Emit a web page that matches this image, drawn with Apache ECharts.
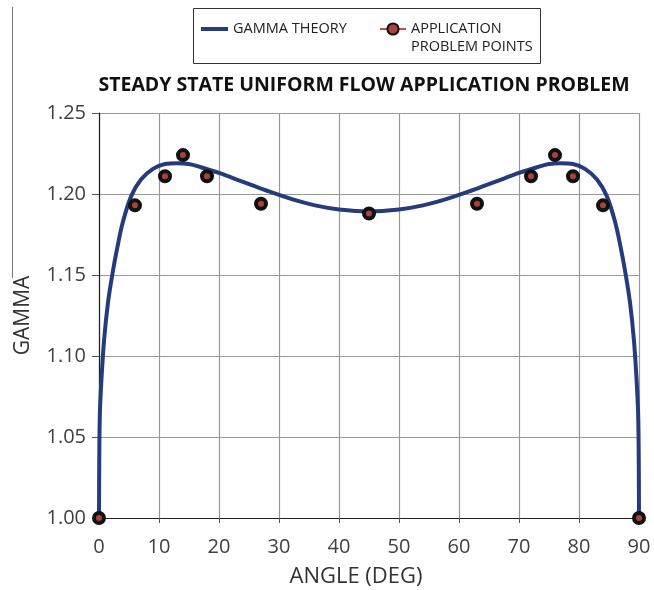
<!DOCTYPE html>
<html>
<head>
<meta charset="utf-8">
<script src="https://cdn.jsdelivr.net/npm/echarts@6/dist/echarts.min.js"></script>
<style>html,body{margin:0;padding:0;background:#fff}#c{width:654px;height:590px}</style>
</head>
<body>
<div id="c"></div>
<script>
const titleText = 'STEADY STATE UNIFORM FLOW APPLICATION PROBLEM';
const xName = 'ANGLE (DEG)';
const yName = 'GAMMA';
const theoryName = 'GAMMA THEORY';
const pointsName = 'APPLICATION PROBLEM POINTS';
const pointsLegendLines = ['APPLICATION', 'PROBLEM POINTS'];

// Theory curve samples
const theoryAngle = [0, 0.05, 0.15, 0.4, 0.85, 1.5, 2.3, 3.0, 4.0, 5.4, 7, 9, 11, 13, 15, 17, 20, 24, 28, 32, 36, 40, 45,
  50, 54, 58, 62, 66, 70, 73, 75, 77, 79, 81, 83, 84.6, 86, 87, 87.7, 88.5, 89.15, 89.6, 89.85, 89.95, 90];
const theoryGamma = [1.000, 1.040, 1.065, 1.085, 1.110, 1.133, 1.152, 1.166, 1.183, 1.199, 1.209, 1.2155, 1.2185, 1.219, 1.2185, 1.2165, 1.213, 1.2075, 1.202, 1.197, 1.193, 1.1905, 1.1893,
  1.1905, 1.193, 1.197, 1.202, 1.2075, 1.213, 1.2165, 1.2185, 1.219, 1.2185, 1.2155, 1.209, 1.199, 1.183, 1.166, 1.152, 1.133, 1.110, 1.085, 1.065, 1.040, 1.000];

// Application problem points
const pointAngle = [0, 6, 11, 14, 18, 27, 45, 63, 72, 76, 79, 84, 90];
const pointGamma = [1.000, 1.193, 1.211, 1.224, 1.211, 1.194, 1.188, 1.194, 1.211, 1.224, 1.211, 1.193, 1.000];

const xTicks = [0, 10, 20, 30, 40, 50, 60, 70, 80, 90];
const yTicks = [1.00, 1.05, 1.10, 1.15, 1.20, 1.25];

const FONT = 'Open Sans';
const chart = echarts.init(document.getElementById('c'), null, {renderer: 'canvas'});

const theoryData = theoryAngle.map((a, i) => [a, theoryGamma[i]]);
const pointData = pointAngle.map((a, i) => [a, pointGamma[i]]);

chart.setOption({
  animation: false,
  backgroundColor: '#ffffff',
  title: {
    text: titleText,
    left: 364, top: 75, textAlign: 'center', padding: 0,
    textStyle: {fontFamily: FONT, fontWeight: 'bold', fontSize: 19.5, color: '#111'}
  },
  graphic: [
    {type: 'rect', shape: {x: 193.5, y: 8.5, width: 347, height: 55}, style: {fill: 'none', stroke: '#333', lineWidth: 1}, silent: true},
    {type: 'line', shape: {x1: 12.5, y1: 7, x2: 12.5, y2: 278}, style: {stroke: '#777', lineWidth: 1}, silent: true}
  ],
  legend: [
    {
      data: [{name: theoryName, itemStyle: {color: 'rgba(0,0,0,0)', borderWidth: 0, opacity: 0}, lineStyle: {color: '#263B7C', width: 4}}],
      left: 199, top: 20, padding: 0, itemWidth: 27, itemHeight: 14, itemGap: 0,
      textStyle: {fontFamily: FONT, fontSize: 14.5, color: '#222', lineHeight: 18}
    },
    {
      data: [{name: pointsName, lineStyle: {color: '#C0504D', width: 2, opacity: 1}}],
      left: 379, top: 2, padding: 0, itemWidth: 26, itemHeight: 14, itemGap: 0,
      formatter: () => '\n' + pointsLegendLines.join('\n'),
      textStyle: {fontFamily: FONT, fontSize: 14.5, color: '#222', lineHeight: 18}
    }
  ],
  grid: {left: 99, right: 15, top: 113, bottom: 72, outerBoundsMode: 'none', containLabel: false},
  xAxis: {
    type: 'value', min: 0, max: 90, interval: 10,
    name: xName + '{sp|}', nameLocation: 'middle', nameGap: 48,
    nameTextStyle: {fontFamily: FONT, fontSize: 22, color: '#333', rich: {sp: {width: 26, fontSize: 22}}},
    axisLine: {show: true, lineStyle: {color: '#222', width: 1.2}},
    axisTick: {show: true, inside: false, length: 5, lineStyle: {color: '#555'}},
    axisLabel: {fontFamily: FONT, fontSize: 20, color: '#404040', margin: 19,
      formatter: v => xTicks.includes(v) ? String(v) : ''},
    splitLine: {show: true, lineStyle: {color: '#999', width: 1.2}}
  },
  yAxis: {
    type: 'value', min: 1.00, max: 1.25, interval: 0.05,
    name: yName, nameLocation: 'middle', nameGap: 65, nameRotate: 90,
    nameTextStyle: {fontFamily: FONT, fontSize: 21, color: '#333'},
    axisLine: {show: true, lineStyle: {color: '#222', width: 1.2}},
    axisTick: {show: true, inside: false, length: 7, lineStyle: {color: '#555'}},
    axisLabel: {fontFamily: FONT, fontSize: 20, color: '#404040', margin: 13,
      formatter: v => yTicks.some(t => Math.abs(t - v) < 1e-9) ? v.toFixed(2) : ''},
    splitLine: {show: true, lineStyle: {color: '#999', width: 1.2}}
  },
  series: [
    {
      name: theoryName, type: 'line', data: theoryData,
      symbol: 'none', smooth: 0.35,
      lineStyle: {color: '#263B7C', width: 4},
      itemStyle: {color: '#263B7C'},
      z: 2
    },
    {
      name: pointsName, type: 'line', data: pointData,
      symbol: 'circle', symbolSize: 10, showSymbol: true,
      lineStyle: {width: 0, opacity: 0, color: '#C0504D'},
      itemStyle: {color: '#A8443B', borderColor: '#111', borderWidth: 4},
      z: 3
    }
  ]
});
</script>
</body>
</html>
